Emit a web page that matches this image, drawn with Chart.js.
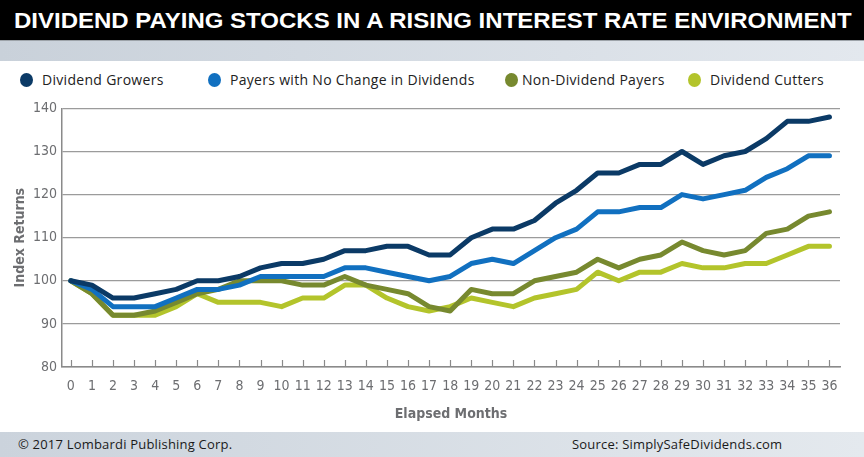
<!DOCTYPE html>
<html>
<head>
<meta charset="utf-8">
<script src="https://cdn.jsdelivr.net/npm/chart.js@4/dist/chart.umd.min.js"></script>
<style>
  html,body{margin:0;padding:0;background:#fff;}
  #wrap{position:relative;width:864px;height:457px;overflow:hidden;background:#fff;font-family:'Open Sans',sans-serif;}
  #title{position:absolute;left:0;top:0;width:864px;height:40px;background:#000;}
  #title span{position:absolute;left:14px;top:0;line-height:41px;color:#fff;white-space:nowrap;
    font-family:'Liberation Sans',Arial,sans-serif;font-weight:700;font-size:22px;transform-origin:0 50%;}
  #band{position:absolute;left:0;top:40px;width:864px;height:21px;border-top:1px solid #9da3a9;box-sizing:border-box;
    background:linear-gradient(to right,#c9d1da,#e3e8ee);}
  .dot{position:absolute;top:73px;width:13px;height:14px;border-radius:50%;}
  .lg{position:absolute;top:70px;font-size:14px;letter-spacing:0.3px;color:#222;white-space:nowrap;line-height:20px;}
  #foot{position:absolute;left:0;top:432px;width:864px;height:25px;background:linear-gradient(to right,#cbd3dc,#e4e9ee);
    font-size:13px;color:#1a1a1a;line-height:25px;letter-spacing:0.2px;}
  #chartBox{position:absolute;left:0;top:95px;width:864px;height:337px;}
</style>
</head>
<body>
<div id="wrap">
  <div id="title"><span id="titleText">DIVIDEND PAYING STOCKS IN A RISING INTEREST RATE ENVIRONMENT</span></div>
  <div id="band"></div>
  <div class="dot" style="left:20px;background:#0b3a66"></div><div class="lg" style="left:42px">Dividend Growers</div>
  <div class="dot" style="left:208px;background:#1170c0"></div><div class="lg" style="left:230px">Payers with No Change in Dividends</div>
  <div class="dot" style="left:505px;background:#77892f"></div><div class="lg" style="left:522px">Non-Dividend Payers</div>
  <div class="dot" style="left:688px;background:#b3c42b"></div><div class="lg" style="left:710px">Dividend Cutters</div>
  <div id="chartBox"><canvas id="c" width="864" height="337"></canvas></div>
  <div id="foot"><span style="position:absolute;left:18px">© 2017 Lombardi Publishing Corp.</span><span style="position:absolute;left:572px">Source: SimplySafeDividends.com</span></div>
</div>
<script>
// --------- DATA ----------
const months = Array.from({length:37}, (_, i) => i);
const seriesNames = ['Dividend Growers','Payers with No Change in Dividends','Non-Dividend Payers','Dividend Cutters'];
const growers   = [100,99,96,96,97,98,100,100,101,103,104,104,105,107,107,108,108,106,106,110,112,112,114,118,121,125,125,127,127,130,127,129,130,133,137,137,138];
const noChange  = [100,98,94,94,94,96,98,98,99,101,101,101,101,103,103,102,101,100,101,104,105,104,107,110,112,116,116,117,117,120,119,120,121,124,126,129,129];
const nonPayers = [100,97,92,92,93,95,97,98,100,100,100,99,99,101,99,98,97,94,93,98,97,97,100,101,102,105,103,105,106,109,107,106,107,111,112,115,116];
const cutters   = [100,97,92,92,92,94,97,95,95,95,94,96,96,99,99,96,94,93,94,96,95,94,96,97,98,102,100,102,102,104,103,103,104,104,106,108,108];
const yTicks = [80,90,100,110,120,130,140];

const colors = ['#0b3a66','#1170c0','#77892f','#b3c42b'];
const axisFont = "'DejaVu Sans'";
const grey = '#6d6e71';

// stretch the title to the width of the black bar
const tt = document.getElementById('titleText');
tt.style.transform = 'scaleX(' + (838 / tt.offsetWidth) + ')';

const toPts = arr => arr.map((v,i) => ({x:months[i], y:v}));
const allSeries = [growers, noChange, nonPayers, cutters];
const datasets = allSeries.map((s,i) => ({
  label: seriesNames[i], data: toPts(s), borderColor: colors[i], backgroundColor: colors[i],
  borderWidth: 5, pointRadius: 0, tension: 0, fill: false, order: i, borderJoinStyle:'round', borderCapStyle:'round'
}));

// small upward tick marks on the x axis
const upTicks = {
  id:'upTicks',
  afterDatasetsDraw(chart){
    const xs = chart.scales.x, ctx = chart.ctx, b = chart.chartArea.bottom;
    ctx.save();
    ctx.strokeStyle = '#8a8a8a'; ctx.lineWidth = 1.2;
    xs.ticks.forEach(t => {
      const px = Math.round(xs.getPixelForValue(t.value)) + 0.5;
      ctx.beginPath(); ctx.moveTo(px, b - 7); ctx.lineTo(px, b); ctx.stroke();
    });
    ctx.restore();
  }
};

new Chart(document.getElementById('c'), {
  type:'line',
  data:{datasets},
  options:{
    responsive:false, animation:false,
    layout:{padding:{top:10, right:24, left:0, bottom:0}},
    plugins:{legend:{display:false}, tooltip:{enabled:false}},
    scales:{
      x:{
        type:'linear', min:-0.42, max:36.5,
        ticks:{stepSize:1, includeBounds:false, autoSkip:false, maxRotation:0, color:grey, font:{family:axisFont, size:14, weight:'condensed'}, padding:3},
        grid:{display:false},
        border:{display:true, color:'#8a8a8a', width:1.5},
        title:{display:true, text:'Elapsed Months', color:grey, font:{family:axisFont, size:14, weight:'bold condensed'}, padding:{top:0, bottom:9}},
        afterFit(s){ s.height = 65; }
      },
      y:{
        min:80, max:140,
        afterBuildTicks(s){ s.ticks = yTicks.map(v => ({value:v})); },
        ticks:{color:grey, font:{family:axisFont, size:14, weight:'condensed'}, padding:5},
        grid:{color:'#9b9b9b', lineWidth:1.3, drawTicks:false},
        border:{display:true, color:'#8a8a8a', width:1.5},
        title:{display:true, text:'Index Returns', color:grey, font:{family:axisFont, size:14, weight:'bold condensed'}, padding:{top:12, bottom:0}},
        afterFit(s){ s.width = 62; }
      }
    }
  },
  plugins:[upTicks]
});
</script>
</body>
</html>
